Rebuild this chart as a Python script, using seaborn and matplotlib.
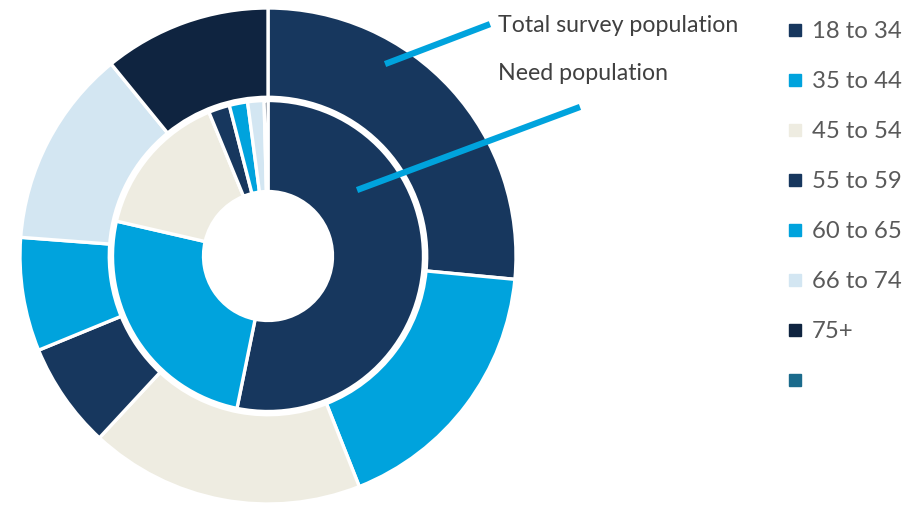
import matplotlib
matplotlib.use("Agg")
import matplotlib.pyplot as plt
from matplotlib.lines import Line2D
import seaborn as sns

# Age groups and their share (%) of each population
age_groups = ["18 to 34", "35 to 44", "45 to 54", "55 to 59", "60 to 65", "66 to 74", "75+"]
total_survey = [26.5, 17.5, 17.9, 6.9, 7.4, 12.9, 10.9]
need_population = [53.2, 25.4, 15.2, 2.2, 1.9, 1.7, 0.4]

ring_labels = ["Total survey population", "Need population"]
legend_labels = age_groups + [""]

colors = sns.color_palette(["#17375E", "#00A3DD", "#EEECE1", "#17375E",
                            "#00A3DD", "#D3E6F2", "#0F2440", "#1B6B8C"])

sns.set_theme(style="white")
plt.rcParams["font.family"] = ["Lato", "DejaVu Sans"]

W, H = 922, 505
fig = plt.figure(figsize=(W / 100, H / 100), dpi=100)

# pie axes: centre at (268, 256) px, outer radius 248 px
cx, cy, R = 268, 256, 248
ax = fig.add_axes([(cx - R) / W, (H - cy - R) / H, 2 * R / W, 2 * R / H])

edge = dict(edgecolor="white", linewidth=2.4)
ax.pie(total_survey, colors=colors[:7], radius=1.0, startangle=90, counterclock=False,
       wedgeprops=dict(width=0.36, **edge), frame=True)
ax.pie(need_population, colors=colors[:7], radius=0.627, startangle=90, counterclock=False,
       wedgeprops=dict(width=0.367, **edge), frame=True)
ax.set_xlim(-1, 1)
ax.set_ylim(-1, 1)
ax.set_aspect("equal")
ax.axis("off")

# leader lines from each ring to its caption
callout = "#00A3DD"
ax.plot([0.472, 0.895], [0.774, 0.935], color=callout, lw=4.5, solid_capstyle="butt", clip_on=False)
ax.plot([0.359, 1.258], [0.266, 0.601], color=callout, lw=4.5, solid_capstyle="butt", clip_on=False)

fig.text(498 / W, 1 - 25 / H, ring_labels[0], fontsize=16.7, color="#404040", va="center", ha="left")
fig.text(498 / W, 1 - 73 / H, ring_labels[1], fontsize=16.7, color="#404040", va="center", ha="left")

handles = [Line2D([], [], marker="s", linestyle="none", markersize=8,
                  markerfacecolor=c, markeredgecolor=c) for c in colors]
fig.legend(handles, legend_labels, loc="upper left", bbox_to_anchor=(786 / W, 1 - 21 / H),
           frameon=False, fontsize=17.2, labelcolor="#595959", handlelength=0.75,
           handletextpad=0.32, labelspacing=1.215, borderpad=0, borderaxespad=0)

fig.savefig("out.png", dpi=100)
